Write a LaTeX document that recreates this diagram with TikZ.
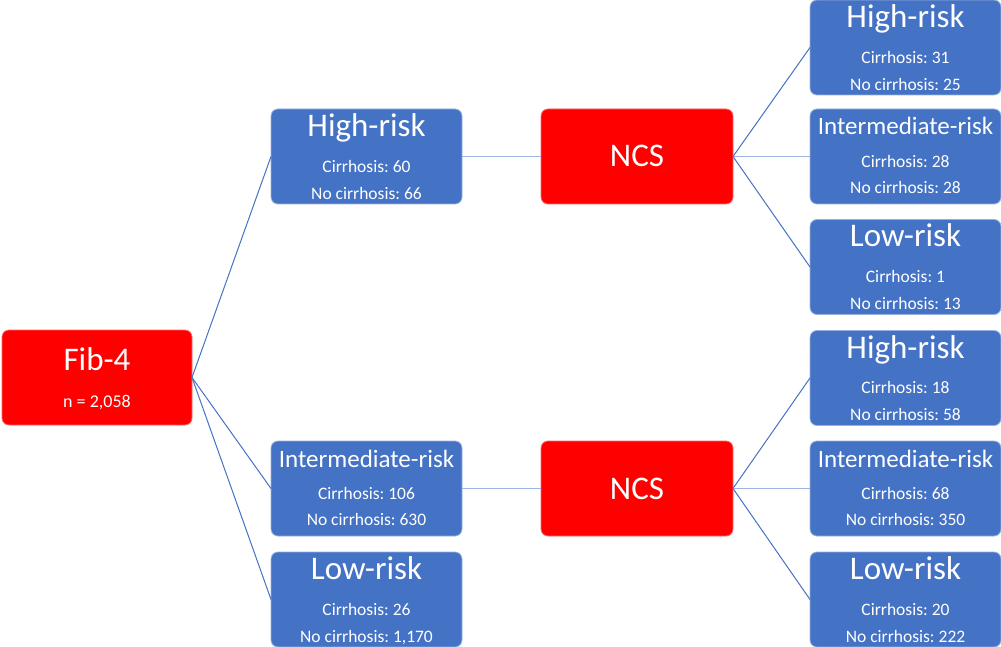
\documentclass[tikz,border=0pt]{standalone}
\usepackage{fontspec}
\setmainfont{Carlito}
\frenchspacing
\usetikzlibrary{calc}
\definecolor{boxblue}{HTML}{4472C4}
\definecolor{boxred}{HTML}{FF0000}
\definecolor{lineblue}{HTML}{4472C4}
\definecolor{hlineblue}{HTML}{9DB5DF}
\tikzset{
  bluebox/.style={rectangle, rounded corners=7pt, fill=boxblue, draw=boxblue!55!white, line width=0.8pt,
    minimum width=191pt, minimum height=95pt, inner sep=0pt, outer sep=0pt},
  redbox/.style={rectangle, rounded corners=7pt, fill=boxred, draw=boxred!60!white, line width=0.8pt,
    minimum width=191pt, minimum height=95pt, inner sep=0pt, outer sep=0pt},
  titletext/.style={text=white, inner sep=0pt, font=\fontsize{33}{36}\selectfont},
  ititletext/.style={text=white, inner sep=0pt, font=\fontsize{25}{28}\selectfont},
  subtext/.style={text=white, inner sep=0pt, font=\fontsize{17.5}{20}\selectfont},
  diagline/.style={draw=lineblue, line width=1pt},
  hline/.style={draw=hlineblue, line width=1.6pt}
}
\newcommand{\mkbox}[5]{%
  \node[bluebox] (#1) at (#2) {};
  \node[titletext, anchor=base] (#1-t) at ($(#1.north)+(0,27.5)$) {#3};
  \node[subtext, anchor=base] (#1-c) at ($(#1.center)+(0,15.6)$) {Cirrhosis: #4};
  \node[subtext, anchor=base] (#1-n) at ($(#1.center)+(0,42.6)$) {No cirrhosis: #5};}
\newcommand{\mkibox}[4]{%
  \node[bluebox] (#1) at (#2) {};
  \node[ititletext, anchor=base] (#1-t) at ($(#1.north)+(0,26)$) {Intermediate-risk};
  \node[subtext, anchor=base] (#1-c) at ($(#1.center)+(0,10.6)$) {Cirrhosis: #3};
  \node[subtext, anchor=base] (#1-n) at ($(#1.center)+(0,36.6)$) {No cirrhosis: #4};}
\begin{document}
\begin{tikzpicture}[x=1pt, y=-1pt]
\useasboundingbox (0,0) rectangle (1001,647);
% Fib-4
\node[redbox, minimum width=190pt] (fib) at (97,377.5) {};
\node[titletext, anchor=base] (fib-t) at ($(fib.center)+(0,-7.2)$) {Fib-4};
\node[subtext, font=\fontsize{18}{20}\selectfont, anchor=base] (fib-n) at ($(fib.center)+(0,30.3)$) {n = 2,058};
% level 1
\mkbox{h1}{366.5,156.5}{High-risk}{60}{66}
\mkibox{i1}{366.5,488.5}{106}{630}
\mkbox{l1}{366.5,599.5}{Low-risk}{26}{1,170}
% NCS
\node[redbox, minimum width=192pt] (n1) at (637,156.5) {};
\node[titletext, anchor=base] (n1-t) at ($(n1.center)+(0,10.5)$) {NCS};
\node[redbox, minimum width=192pt] (n2) at (637,488.5) {};
\node[titletext, anchor=base] (n2-t) at ($(n2.center)+(0,10.5)$) {NCS};
% right column
\mkbox{r1}{905.5,47.5}{High-risk}{31}{25}
\mkibox{r2}{905.5,156.5}{28}{28}
\mkbox{r3}{905.5,267}{Low-risk}{1}{13}
\mkbox{r4}{905.5,378}{High-risk}{18}{58}
\mkibox{r5}{905.5,488.5}{68}{350}
\mkbox{r6}{905.5,599.5}{Low-risk}{20}{222}
% connectors
\draw[diagline] (fib.east) -- (h1.west);
\draw[diagline] (fib.east) -- (i1.west);
\draw[diagline] (fib.east) -- (l1.west);
\draw[hline] (h1.east) -- (n1.west);
\draw[hline] (i1.east) -- (n2.west);
\draw[diagline] (n1.east) -- (r1.west);
\draw[hline] (n1.east) -- (r2.west);
\draw[diagline] (n1.east) -- (r3.west);
\draw[diagline] (n2.east) -- (r4.west);
\draw[hline] (n2.east) -- (r5.west);
\draw[diagline] (n2.east) -- (r6.west);
\end{tikzpicture}
\end{document}
